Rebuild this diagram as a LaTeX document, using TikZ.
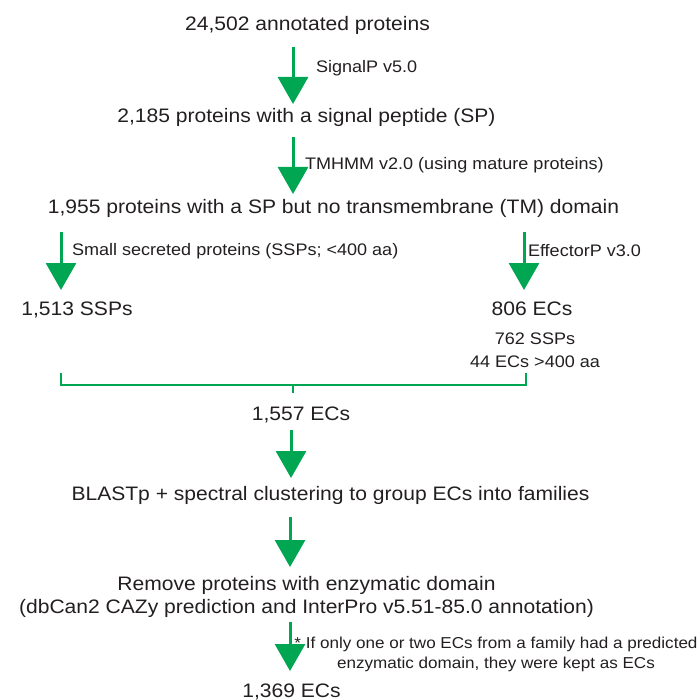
\documentclass[tikz,border=0pt]{standalone}
\usepackage{fontspec}
\setmainfont{Liberation Sans}[FakeStretch=1.08]
\usetikzlibrary{arrows.meta}
\definecolor{flowgreen}{RGB}{0,166,81}
\definecolor{ink}{RGB}{35,31,32}
\begin{document}
\begin{tikzpicture}[x=1pt,y=-1pt,
  every node/.style={inner sep=0pt,outer sep=0pt,text=ink},
  main/.style={font=\fontsize{19.5}{23}\selectfont,anchor=base,align=center},
  small/.style={font=\fontsize{16.7}{23}\selectfont,anchor=base west},
  smallc/.style={font=\fontsize{16.7}{23}\selectfont,anchor=base,align=center},
  note/.style={font=\fontsize{15.8}{20}\selectfont,anchor=base,align=center},
  flow/.style={draw=flowgreen,line width=3pt,-{Triangle[width=30pt 0 0,length=27pt 0 0,fill=flowgreen]}},
  brk/.style={draw=flowgreen,line width=2.6pt,line join=miter}]
\useasboundingbox (0,0) rectangle (699,700);
% text nodes
\node[main] (n1) at (307.5,31) {24,502 annotated proteins};
\node[main] (n2) at (306.5,123) {2,185 proteins with a signal peptide (SP)};
\node[main] (n3) at (333.5,214) {1,955 proteins with a SP but no transmembrane (TM) domain};
\node[main] (n4l) at (77,315) {1,513 SSPs};
\node[main] (n4r) at (532,315) {806 ECs};
\node[smallc] (n4d) at (535,367) {762 SSPs\\44 ECs >400 aa};
\node[main] (n5) at (301,420) {1,557 ECs};
\node[main] (n6) at (330.5,500) {BLASTp + spectral clustering to group ECs into families};
\node[main] (n7) at (306.5,613) {Remove proteins with enzymatic domain\\(dbCan2 CAZy prediction and InterPro v5.51-85.0 annotation)};
\node[main] (n8) at (291.5,697) {1,369 ECs};
% step labels
\node[small] (l1) at (316,73) {SignalP v5.0};
\node[small] (l2) at (305,170) {TMHMM v2.0 (using mature proteins)};
\node[small] (l3) at (72,255) {Small secreted proteins (SSPs; <400 aa)};
\node[small] (l4) at (528,257) {EffectorP v3.0};
\node[note] (l5) at (496,668) {* If only one or two ECs from a family had a predicted\\enzymatic domain, they were kept as ECs};
% arrow ends
\coordinate (a1s) at (293,47);  \coordinate (a1e) at (293,104);
\coordinate (a2s) at (293,137); \coordinate (a2e) at (293,194);
\coordinate (a3s) at (61,232);  \coordinate (a3e) at (61,290);
\coordinate (a4s) at (524,232); \coordinate (a4e) at (524,290);
\coordinate (a5s) at (291,430); \coordinate (a5e) at (291,478);
\coordinate (a6s) at (290,517); \coordinate (a6e) at (290,567);
\coordinate (a7s) at (290,622); \coordinate (a7e) at (290,671);
\draw[flow] (a1s) -- (a1e);
\draw[flow] (a2s) -- (a2e);
\draw[flow] (a3s) -- (a3e);
\draw[flow] (a4s) -- (a4e);
\draw[flow] (a5s) -- (a5e);
\draw[flow] (a6s) -- (a6e);
\draw[flow] (a7s) -- (a7e);
% bracket
\coordinate (bl) at (61,373);  \coordinate (blc) at (61,385);
\coordinate (br) at (526,373); \coordinate (brc) at (526,385);
\coordinate (bm) at (293,385); \coordinate (bmd) at (293,393);
\draw[brk] (bl) -- (blc) -- (brc) -- (br);
\draw[brk] (bm) -- (bmd);
\end{tikzpicture}
\end{document}
